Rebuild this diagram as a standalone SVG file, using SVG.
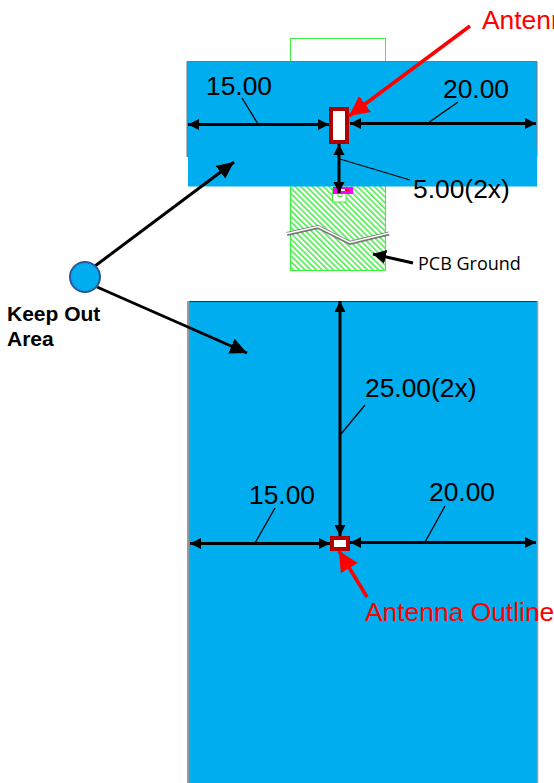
<svg xmlns="http://www.w3.org/2000/svg" width="554" height="783" viewBox="0 0 554 783">
<style>
.t{font-family:"Liberation Sans",Arial,sans-serif;font-size:26.4px;fill:#000}
.r{font-family:"Liberation Sans",Arial,sans-serif;font-size:26.4px;fill:#f00}
.k{font-family:"Liberation Sans",Arial,sans-serif;font-size:21px;font-weight:700;fill:#000}
.b{fill:#00adef}
.a{stroke:#000;stroke-width:3;fill:none;marker-start:url(#ka);marker-end:url(#ka)}
.l{stroke:#000;stroke-width:1.3;fill:none}
.o{fill:#fff;stroke:#b00000;stroke-width:4}
</style>
<defs>
<marker id="ka" markerUnits="userSpaceOnUse" markerWidth="12" markerHeight="12" refX="11" refY="6" orient="auto-start-reverse"><path d="M0 .5L11 6L0 11.5z" fill="#000"/></marker>
<marker id="kb" markerUnits="userSpaceOnUse" markerWidth="18" markerHeight="16" refX="17" refY="8" orient="auto"><path d="M0 0L17 8L0 16z" fill="#000"/></marker>
<marker id="kc" markerUnits="userSpaceOnUse" markerWidth="14" markerHeight="14" refX="13" refY="7" orient="auto"><path d="M0 0L13 7L0 14z" fill="#000"/></marker>
<marker id="kr" markerUnits="userSpaceOnUse" markerWidth="21" markerHeight="20" refX="20" refY="10" orient="auto"><path d="M0 0L20 10L0 20z" fill="#f00"/></marker>
<pattern id="h" width="4" height="4" patternUnits="userSpaceOnUse" patternTransform="rotate(-45)"><rect width="4" height="4" fill="#fff"/><rect width="1.600" height="4" fill="#4fe84f"/></pattern>
</defs>

<g id="pcb">
<rect x="290.500" y="38.500" width="95" height="30" fill="#fff" stroke="#3fef3f"/>
<rect x="290.500" y="180" width="95" height="90.500" fill="url(#h)" stroke="#3fef3f"/>
<rect x="332.500" y="188" width="13.500" height="14" fill="#fff" stroke="#3fef3f"/>
<path d="M338 193v3.500h4V193" fill="none" stroke="#3fef3f"/>
<path d="M287 234L318 227L350 243L389 233.500" fill="none" stroke="#777" stroke-width="4"/>
<path d="M287 233.500L318 226.500L350 242.500L389 233" fill="none" stroke="#fff" stroke-width="1.500"/>
</g>

<g id="top-keepout">
<rect x="187" y="61" width="350" height="96" class="b"/>
<path d="M187 157V61.500H537V157" fill="none" stroke="#777" stroke-width="1"/>
<rect x="188" y="150" width="349" height="36.500" class="b"/>
<rect x="333" y="187" width="20" height="7" fill="#f0f"/>
<rect x="337" y="189" width="4" height="2" fill="#f00"/>
<rect x="341" y="189" width="4" height="2" fill="#fff"/>
<rect x="345" y="189" width="4" height="2" fill="#f00"/>
</g>

<g id="bottom-keepout">
<rect x="188" y="301" width="350" height="482" class="b"/>
<path d="M188 783V301.500H538" fill="none" stroke="#333" stroke-width="1"/>
<path d="M188.500 301V783" fill="none" stroke="#999" stroke-width="1.500"/>
<path d="M537.500 301V783" fill="none" stroke="#999" stroke-width="1.500"/>
</g>

<g id="antenna-top"><rect x="331" y="109" width="16" height="33" class="o"/></g>
<g id="antenna-bottom"><rect x="332" y="538" width="16" height="11" class="o"/></g>

<g id="connectors">
<path class="a" d="M188 124.500H329"/>
<path class="a" d="M350 123.500H536"/>
<path class="a" d="M339 144V193"/>
<path class="a" d="M340 301V536"/>
<path class="a" d="M190 543.500H330"/>
<path class="a" d="M350 542.500H536"/>
<path class="l" d="M242 98L258 124"/>
<path class="l" d="M458 102L428 123"/>
<path class="l" d="M340 159L410 180"/>
<path class="l" d="M365 405L341 434"/>
<path class="l" d="M275 508L255 543"/>
<path class="l" d="M445 506L425 542"/>
<path d="M95 266L234 162" stroke="#000" stroke-width="3" fill="none" marker-end="url(#kb)"/>
<path d="M97 287L247 353" stroke="#000" stroke-width="3" fill="none" marker-end="url(#kb)"/>
<path d="M413 263L373 254" stroke="#000" stroke-width="3" fill="none" marker-end="url(#kc)"/>
<path d="M470 26L349 116" stroke="#f00" stroke-width="3.500" fill="none" marker-end="url(#kr)"/>
<path d="M367 597L339 551" stroke="#f00" stroke-width="3.500" fill="none" marker-end="url(#kr)"/>
</g>

<g id="keep-out-legend">
<circle cx="85" cy="277" r="15" fill="#00adef" stroke="#2f5597" stroke-width="2"/>
<text class="k" x="7" y="321">Keep Out</text>
<text class="k" x="7" y="346">Area</text>
</g>

<g id="labels">
<text class="r" x="482" y="29">Antenna Outline</text>
<text class="r" x="365" y="621">Antenna Outline</text>
<text class="t" x="206" y="95">15.00</text>
<text class="t" x="443" y="98">20.00</text>
<text class="t" x="413" y="198">5.00(2x)</text>
<text class="t" x="365" y="397">25.00(2x)</text>
<text class="t" x="249" y="504">15.00</text>
<text class="t" x="429" y="501">20.00</text>
<text x="418" y="270" font-family="Open Sans,Noto Sans,sans-serif" font-size="18" fill="#000">PCB Ground</text>
</g>
</svg>
